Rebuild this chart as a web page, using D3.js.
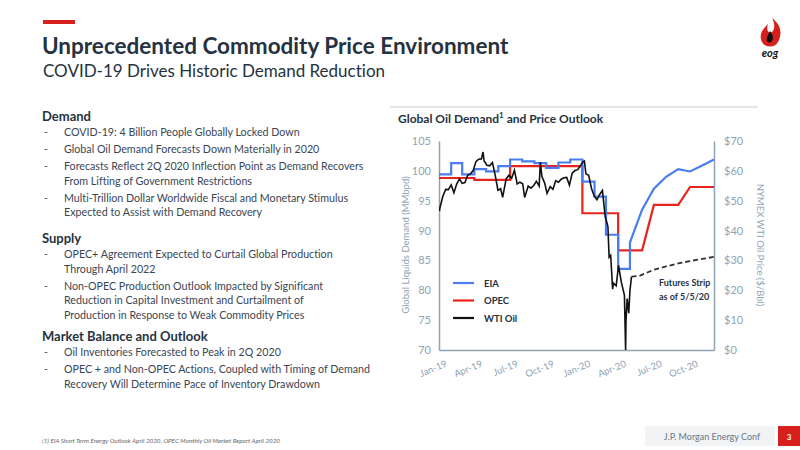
<!DOCTYPE html>
<html>
<head>
<meta charset="utf-8">
<script src="https://cdn.jsdelivr.net/npm/d3@7"></script>
<style>
  body { margin: 0; background: #fff; }
  svg { font-family: Lato, "Open Sans", sans-serif; font-variant-ligatures: none; }
</style>
</head>
<body>
<div id="slide"></div>
<script>
// demand series: [month, MMbpd], repeated month = vertical step
var eiaPoints = [
  ["2019-01", 99.4], ["2019-02", 99.4], ["2019-02", 101.3], ["2019-03", 101.3], ["2019-03", 99.4],
  ["2019-04", 99.4], ["2019-04", 100.3], ["2019-05", 100.3], ["2019-05", 99.9], ["2019-06", 99.9],
  ["2019-06", 100.8], ["2019-07", 100.8], ["2019-07", 101.9], ["2019-08", 101.9], ["2019-08", 101.6],
  ["2019-09", 101.6], ["2019-09", 101.3], ["2019-10", 101.3], ["2019-10", 100.5], ["2019-11", 100.5],
  ["2019-11", 101.4], ["2019-12", 101.4], ["2019-12", 101.9], ["2020-01", 101.9], ["2020-01", 98.2],
  ["2020-02", 98.2], ["2020-02", 95.7], ["2020-03", 95.7], ["2020-03", 89.3], ["2020-04", 89.3],
  ["2020-04", 83.6], ["2020-05", 83.6], ["2020-05", 88.0], ["2020-06", 93.5], ["2020-07", 97.0],
  ["2020-08", 99.0], ["2020-09", 100.3], ["2020-10", 99.9], ["2020-11", 100.9], ["2020-12", 101.9]
];
var opecPoints = [
  ["2019-01", 98.8], ["2019-04", 98.8], ["2019-04", 98.5], ["2019-07", 98.5], ["2019-07", 100.8],
  ["2020-01", 100.8], ["2020-01", 92.9], ["2020-04", 92.9], ["2020-04", 86.7], ["2020-06", 86.7],
  ["2020-07", 94.3], ["2020-09", 94.3], ["2020-10", 97.3], ["2020-12", 97.3]
];
// NYMEX WTI, $/Bbl, roughly weekly
var wtiDates = ["2019-01-02","2019-01-04","2019-01-11","2019-01-18","2019-01-25","2019-02-01","2019-02-08","2019-02-15",
  "2019-02-22","2019-03-01","2019-03-08","2019-03-15","2019-03-22","2019-03-29","2019-04-05","2019-04-12",
  "2019-04-19","2019-04-23","2019-04-26","2019-05-03","2019-05-10","2019-05-17","2019-05-24","2019-05-31",
  "2019-06-07","2019-06-12","2019-06-21","2019-06-28","2019-07-05","2019-07-12","2019-07-19","2019-07-26",
  "2019-08-02","2019-08-07","2019-08-16","2019-08-23","2019-08-30","2019-09-06","2019-09-13","2019-09-16",
  "2019-09-20","2019-09-27","2019-10-03","2019-10-11","2019-10-18","2019-10-25","2019-11-01","2019-11-08",
  "2019-11-15","2019-11-22","2019-11-29","2019-12-06","2019-12-13","2019-12-20","2019-12-27","2020-01-03",
  "2020-01-06","2020-01-10","2020-01-17","2020-01-24","2020-01-31","2020-02-07","2020-02-14","2020-02-21",
  "2020-02-28","2020-03-06","2020-03-09","2020-03-13","2020-03-18","2020-03-20","2020-03-27","2020-04-02",
  "2020-04-09","2020-04-17","2020-04-20","2020-04-21","2020-04-24","2020-04-28","2020-05-01","2020-05-05"];
var wtiValues = [46.5, 48.0, 51.6, 53.8, 53.7, 55.3, 52.7, 55.6,
  57.3, 55.8, 56.1, 58.5, 59.0, 60.1, 63.1, 63.9,
  64.0, 66.3, 63.3, 61.9, 61.7, 62.8, 58.6, 53.5,
  54.0, 51.1, 57.4, 58.5, 57.5, 60.2, 55.6, 56.2,
  55.7, 51.1, 54.9, 54.2, 55.1, 56.5, 54.9, 62.9,
  58.1, 55.9, 52.5, 54.7, 53.8, 56.7, 56.2, 57.2,
  57.7, 57.8, 55.2, 59.2, 60.1, 60.4, 61.7, 63.1,
  63.3, 59.0, 58.5, 54.2, 51.6, 50.3, 52.1, 53.4,
  44.8, 41.3, 31.1, 31.7, 20.4, 22.4, 21.5, 28.3,
  22.8, 18.3, 0, 10.0, 17.2, 12.3, 19.8, 24.6];
var futuresDates = ["2020-05-05", "2020-05-25", "2020-07-01", "2020-08-01", "2020-09-01", "2020-10-01", "2020-11-01", "2020-12-01"];
var futuresValues = [24.6, 24.8, 26.9, 28.0, 29.0, 29.8, 30.5, 31.2];

var xTicks = ["2019-01", "2019-04", "2019-07", "2019-10", "2020-01", "2020-04", "2020-07", "2020-10"];
var leftTicks = [70, 75, 80, 85, 90, 95, 100, 105];
var rightTicks = [0, 10, 20, 30, 40, 50, 60, 70];

var demandText = [
  ["COVID-19: 4 Billion People Globally Locked Down"],
  ["Global Oil Demand Forecasts Down Materially in 2020"],
  ["Forecasts Reflect 2Q 2020 Inflection Point as Demand Recovers", "From Lifting of Government Restrictions"],
  ["Multi-Trillion Dollar Worldwide Fiscal and Monetary Stimulus", "Expected to Assist with Demand Recovery"]
];
var supplyText = [
  ["OPEC+ Agreement Expected to Curtail Global Production", "Through April 2022"],
  ["Non-OPEC Production Outlook Impacted by Significant", "Reduction in Capital Investment and Curtailment of", "Production in Response to Weak Commodity Prices"]
];
var marketText = [
  ["Oil Inventories Forecasted to Peak in 2Q 2020"],
  ["OPEC + and Non-OPEC Actions, Coupled with Timing of Demand", "Recovery Will Determine Pace of Inventory Drawdown"]
];

var W = 800, H = 450;
var dark = "#263240", axisCol = "#8fa3b5";
var pMonth = d3.timeParse("%Y-%m"), pDay = d3.timeParse("%Y-%m-%d");

var svg = d3.select("#slide").append("svg").attr("width", W).attr("height", H);

// header
svg.append("rect").attr("x", 43).attr("y", 20).attr("width", 32).attr("height", 4).attr("fill", "#d6201b");
svg.append("text").attr("x", 42).attr("y", 54).attr("font-size", 22.5).attr("font-weight", "bold")
  .attr("fill", dark).text("Unprecedented Commodity Price Environment");
svg.append("text").attr("x", 43).attr("y", 77).attr("font-size", 17).attr("fill", dark)
  .text("COVID-19 Drives Historic Demand Reduction");

// logo
var logo = svg.append("g").attr("transform", "translate(770,40)");
logo.append("path").attr("d", "M2,-22 C12,-14 12,-6 8,2 C5,8 -5,8 -8,2 C-12,-6 -6,-12 -2,-16 C-4,-10 -2,-6 2,-8 C6,-12 4,-18 2,-22 Z")
  .attr("fill", "#d6201b");
logo.append("path").attr("d", "M0,-9 C3,-5 4,-2 2,1 C1,3 -2,3 -3,1 C-4,-2 -2,-5 0,-9 Z").attr("fill", "#111");
logo.append("text").attr("x", 0).attr("y", 17).attr("text-anchor", "middle").attr("font-size", 11)
  .attr("font-weight", "bold").attr("font-style", "italic").attr("fill", "#111").text("eog");

// left text block
function section(title, items, y) {
  svg.append("text").attr("x", 42).attr("y", y).attr("font-size", 13).attr("font-weight", "bold")
    .attr("fill", dark).text(title);
  y += 15;
  items.forEach(function (lines) {
    svg.append("text").attr("x", 44).attr("y", y).attr("font-size", 10.5).attr("fill", "#555").text("-");
    lines.forEach(function (l) {
      svg.append("text").attr("x", 64).attr("y", y).attr("font-size", 10.7).attr("fill", "#3a4654").text(l);
      y += 14.5;
    });
    y += 2.5;
  });
}
section("Demand", demandText, 121);
section("Supply", supplyText, 243);
section("Market Balance and Outlook", marketText, 341);

// chart
svg.append("line").attr("x1", 390).attr("x2", 758).attr("y1", 107).attr("y2", 107).attr("stroke", "#c8ced4");
var title = svg.append("text").attr("x", 398).attr("y", 123).attr("font-size", 12).attr("font-weight", "bold").attr("fill", dark);
title.append("tspan").text("Global Oil Demand");
title.append("tspan").attr("font-size", 8).attr("dy", -5).text("1");
title.append("tspan").attr("dy", 5).text(" and Price Outlook");

var x = d3.scaleTime().domain([pMonth("2019-01"), pMonth("2020-12")]).range([439, 714]);
var yL = d3.scaleLinear().domain([70, 105]).range([350, 141]);
var yR = d3.scaleLinear().domain([0, 70]).range([350, 141]);

var axL = svg.append("g").attr("transform", "translate(439,0)")
  .call(d3.axisLeft(yL).tickValues(leftTicks).tickSize(0).tickPadding(8));
var axR = svg.append("g").attr("transform", "translate(714,0)")
  .call(d3.axisRight(yR).tickValues(rightTicks).tickSize(0).tickPadding(10).tickFormat(function (d) { return "$" + d; }));
var axB = svg.append("g").attr("transform", "translate(0,350)")
  .call(d3.axisBottom(x).tickValues(xTicks.map(pMonth)).tickSize(0).tickFormat(d3.timeFormat("%b-%y")));
[axL, axR, axB].forEach(function (a) {
  a.select(".domain").attr("stroke", axisCol).attr("stroke-width", 1.5);
  a.selectAll("text").attr("fill", axisCol).attr("font-size", 11).attr("font-family", "Lato, sans-serif");
});
axB.selectAll(".tick text").attr("text-anchor", "end").attr("font-size", 9.5)
  .attr("transform", "translate(0,12) rotate(-22)").attr("dx", 6).attr("dy", 4);

svg.append("text").attr("transform", "translate(409,245) rotate(-90)").attr("text-anchor", "middle")
  .attr("font-size", 9.5).attr("fill", axisCol).text("Global Liquids Demand (MMbpd)");
svg.append("text").attr("transform", "translate(757,245) rotate(90)").attr("text-anchor", "middle")
  .attr("font-size", 9.5).attr("fill", axisCol).text("NYMEX WTI Oil Price ($/Bbl)");

svg.append("defs").append("clipPath").attr("id", "plot")
  .append("rect").attr("x", 439).attr("y", 130).attr("width", 280).attr("height", 220);
var plot = svg.append("g").attr("clip-path", "url(#plot)");

var demandLine = d3.line().x(function (d) { return x(pMonth(d[0])); }).y(function (d) { return yL(d[1]); });
var wti = wtiDates.map(function (d, i) { return [pDay(d), wtiValues[i]]; });
var fut = futuresDates.map(function (d, i) { return [pDay(d), futuresValues[i]]; });
var priceLine = d3.line().x(function (d) { return x(d[0]); }).y(function (d) { return yR(d[1]); });

plot.append("path").attr("d", demandLine(opecPoints)).attr("fill", "none").attr("stroke", "#e8231c").attr("stroke-width", 2.2);
plot.append("path").attr("d", demandLine(eiaPoints)).attr("fill", "none").attr("stroke", "#4a7cf4").attr("stroke-width", 2.2);
plot.append("path").attr("d", priceLine(wti)).attr("fill", "none").attr("stroke", "#111").attr("stroke-width", 1.6);
plot.append("path").attr("d", priceLine(fut)).attr("fill", "none").attr("stroke", "#333")
  .attr("stroke-width", 1.8).attr("stroke-dasharray", "5,3");

// legend
var legend = [["EIA", "#4a7cf4"], ["OPEC", "#e8231c"], ["WTI Oil", "#111"]];
legend.forEach(function (l, i) {
  var ly = 283 + i * 17.5;
  svg.append("line").attr("x1", 453).attr("x2", 474).attr("y1", ly).attr("y2", ly)
    .attr("stroke", l[1]).attr("stroke-width", 2.2);
  svg.append("text").attr("x", 484).attr("y", ly + 3.5).attr("font-size", 9.5).attr("font-weight", "bold")
    .attr("fill", dark).text(l[0]);
});
svg.append("text").attr("x", 659).attr("y", 286).attr("font-size", 9).attr("font-weight", "bold").attr("fill", dark).text("Futures Strip");
svg.append("text").attr("x", 659).attr("y", 300).attr("font-size", 9).attr("font-weight", "bold").attr("fill", dark).text("as of 5/5/20");

// footer
svg.append("text").attr("x", 42).attr("y", 443).attr("font-size", 6.3).attr("font-style", "italic").attr("fill", "#666")
  .text("(1)     EIA Short Term Energy Outlook April 2020, OPEC Monthly Oil Market Report April 2020");
svg.append("rect").attr("x", 645).attr("y", 426).attr("width", 130).attr("height", 20).attr("fill", "#f1f3f5");
svg.append("text").attr("x", 712).attr("y", 440).attr("text-anchor", "middle").attr("font-size", 9).attr("fill", "#6a7784").text("J.P. Morgan Energy Conf");
svg.append("rect").attr("x", 778).attr("y", 426).attr("width", 22).attr("height", 20).attr("fill", "#d6201b");
svg.append("text").attr("x", 789).attr("y", 440).attr("text-anchor", "middle").attr("font-size", 8).attr("font-weight", "bold").attr("fill", "#fff").text("3");
</script>
</body>
</html>
